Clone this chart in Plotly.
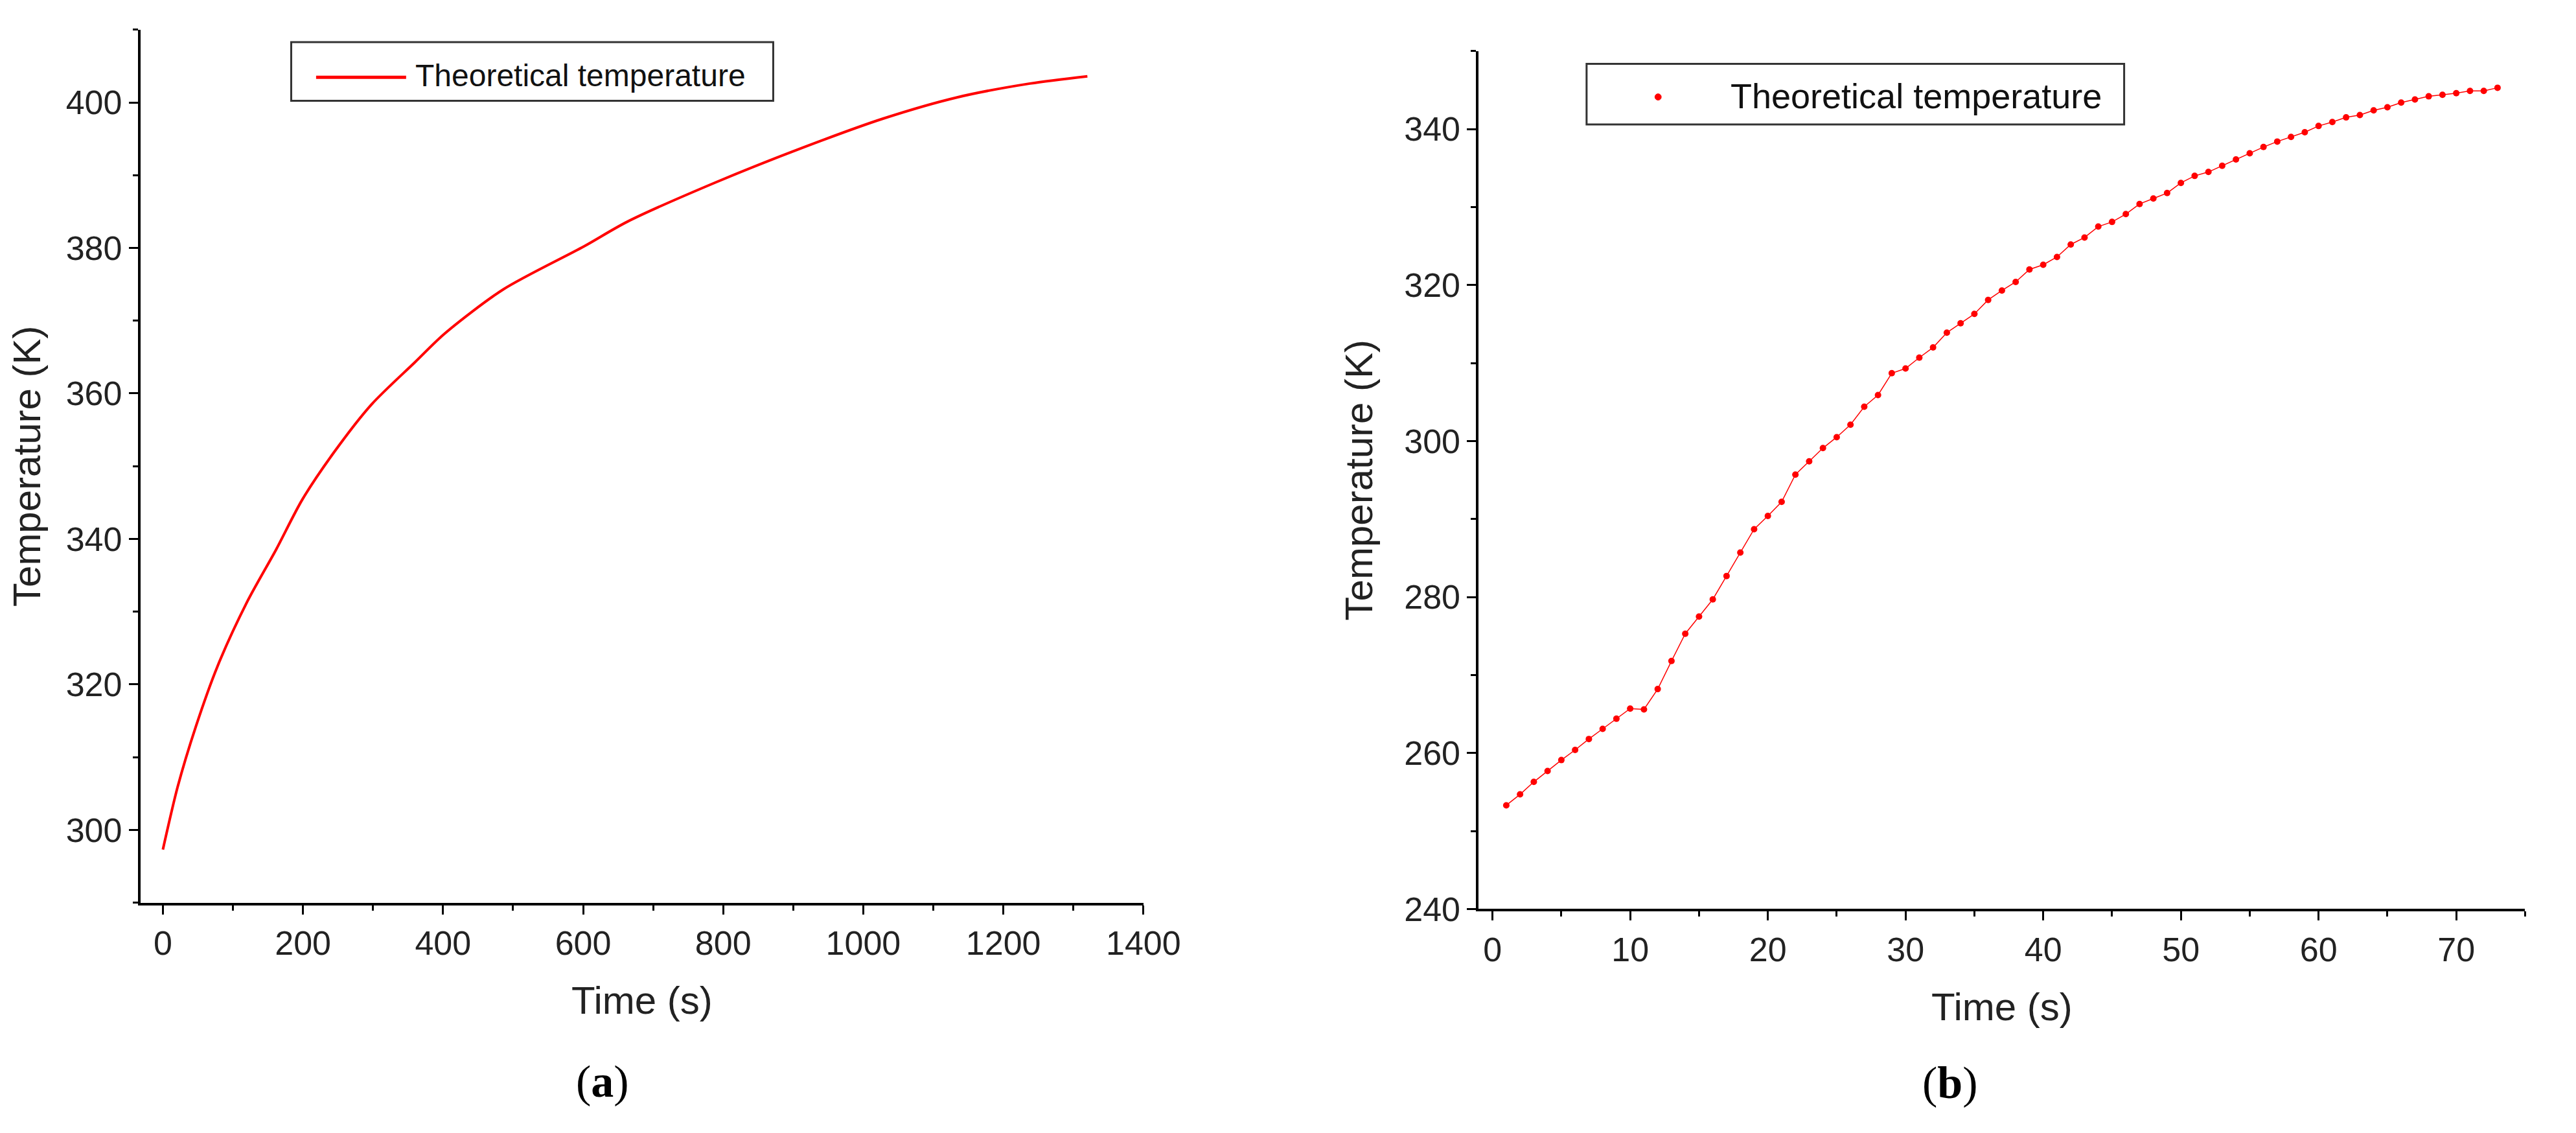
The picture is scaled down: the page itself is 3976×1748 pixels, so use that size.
import plotly.graph_objects as go

# Panel (a) data
time_a = [0, 21, 47, 78, 120, 162, 199, 245, 298, 360, 402, 486, 601, 663, 789, 914, 1029, 1134, 1238, 1320]
temp_a = [297.3, 305.9, 314.2, 322.5, 331.3, 338.6, 345.4, 352.0, 358.5, 364.3, 368.2, 374.3, 380.2, 383.6,
          389.0, 393.8, 397.8, 400.7, 402.6, 403.6]

# Panel (b) data
time_b = list(range(1, 74))
temp_b = [253.3, 254.7, 256.3, 257.7, 259.1, 260.4, 261.8, 263.1, 264.4, 265.7, 265.6, 268.2, 271.8, 275.3,
          277.5, 279.7, 282.7, 285.7, 288.7, 290.4, 292.2, 295.7, 297.4, 299.1, 300.5, 302.1, 304.4, 305.9,
          308.7, 309.3, 310.7, 312.0, 313.9, 315.1, 316.3, 318.1, 319.3, 320.4, 322.0, 322.6, 323.6, 325.2,
          326.1, 327.5, 328.1, 329.1, 330.4, 331.1, 331.8, 333.1, 334.0, 334.5, 335.3, 336.1, 336.9, 337.7,
          338.4, 339.0, 339.6, 340.4, 340.9, 341.5, 341.8, 342.4, 342.8, 343.4, 343.8, 344.2, 344.4, 344.6,
          344.9, 344.9, 345.3]

FONT = "Liberation Sans"
fig = go.Figure()
fig.add_trace(go.Scatter(x=time_a, y=temp_a, mode="lines",
                         line=dict(color="#ff0000", width=4, shape="spline", smoothing=0.8),
                         name="Theoretical temperature", xaxis="x", yaxis="y", showlegend=False))
fig.add_trace(go.Scatter(x=time_b, y=temp_b, mode="lines+markers", line=dict(color="#ff0000", width=1.5),
                         marker=dict(color="#ff0000", size=10), name="Theoretical temperature",
                         xaxis="x2", yaxis="y2", showlegend=False))

ax = dict(showline=True, linecolor="black", linewidth=4, ticks="outside", ticklen=14, tickwidth=3,
          tickcolor="black", showgrid=False, zeroline=False, tickfont=dict(family=FONT, size=52, color="#222"),
          title_font=dict(family=FONT, size=60, color="#222"))
fig.update_layout(
    width=3976, height=1748, margin=dict(l=0, r=0, t=0, b=0),
    paper_bgcolor="white", plot_bgcolor="white",
    xaxis=dict(ax, domain=[0.0533, 0.4484], range=[-32, 1400], dtick=200,
               minor=dict(dtick=100, ticks="outside", ticklen=8, tickwidth=3, tickcolor="black"),
               title=dict(text="Time (s)", standoff=40)),
    yaxis=dict(ax, domain=[0.1945, 0.978], range=[290, 410], dtick=20, anchor="x",
               minor=dict(dtick=10, ticks="outside", ticklen=8, tickwidth=3, tickcolor="black"),
               title=dict(text="Temperature (K)", standoff=30)),
    xaxis2=dict(ax, domain=[0.5805, 0.9927], range=[-1, 75], dtick=10, anchor="y2",
                minor=dict(dtick=5, ticks="outside", ticklen=8, tickwidth=3, tickcolor="black"),
                title=dict(text="Time (s)", standoff=40)),
    yaxis2=dict(ax, domain=[0.1888, 0.9588], range=[240, 350], dtick=20, anchor="x2",
                minor=dict(dtick=10, ticks="outside", ticklen=8, tickwidth=3, tickcolor="black"),
                title=dict(text="Temperature (K)", standoff=30)),
)

def px(x): return x / 3976
def py(y): return 1 - y / 1748

shapes = [
    dict(type="rect", xref="paper", yref="paper", x0=px(448), x1=px(1203), y0=py(150), y1=py(58),
         line=dict(color="#333", width=3), fillcolor="white"),
    dict(type="line", xref="paper", yref="paper", x0=px(487), x1=px(628), y0=py(113), y1=py(113),
         line=dict(color="#ff0000", width=5)),
    dict(type="rect", xref="paper", yref="paper", x0=px(2477), x1=px(3319), y0=py(187), y1=py(92),
         line=dict(color="#333", width=3), fillcolor="white"),
    dict(type="circle", xref="paper", yref="paper", x0=px(2584), x1=px(2594), y0=py(149), y1=py(139),
         line=dict(color="#ff0000", width=1), fillcolor="#ff0000"),
]
fig.update_layout(shapes=shapes)
fig.add_annotation(text="Theoretical temperature", xref="paper", yref="paper", x=px(640), y=py(110),
                   xanchor="left", yanchor="middle", showarrow=False,
                   font=dict(family=FONT, size=48, color="#111"))
fig.add_annotation(text="Theoretical temperature", xref="paper", yref="paper", x=px(2700), y=py(142),
                   xanchor="left", yanchor="middle", showarrow=False,
                   font=dict(family=FONT, size=54, color="#111"))
fig.add_annotation(text="(<b>a</b>)", xref="paper", yref="paper", x=px(936), y=py(1689),
                   xanchor="center", yanchor="middle", showarrow=False,
                   font=dict(family="Liberation Serif", size=70, color="black"))
fig.add_annotation(text="(<b>b</b>)", xref="paper", yref="paper", x=px(3046), y=py(1691),
                   xanchor="center", yanchor="middle", showarrow=False,
                   font=dict(family="Liberation Serif", size=70, color="black"))

fig.write_html("out.html")
